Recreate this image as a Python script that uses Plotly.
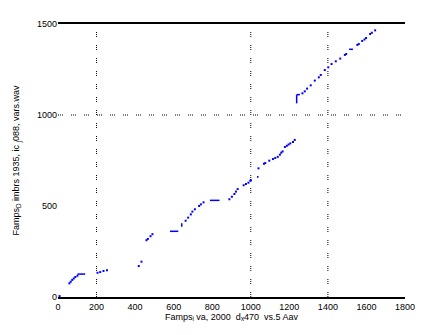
import plotly.graph_objects as go

# Dots (x, y)
dot_x = [8, 59, 66, 74, 82, 90, 101,
         205, 219, 236, 254,
         419, 433,
         459, 466, 480, 490,
         662, 675, 689, 697, 710, 732, 741, 755,
         889, 902, 915, 923, 932, 963, 975, 988, 998, 1000,
         1040, 1068, 1075, 1096, 1115, 1127, 1140, 1151, 1158, 1165, 1177, 1187, 1196, 1205, 1219, 1228,
         1268, 1280, 1292, 1311, 1332, 1353, 1363, 1384, 1402, 1419, 1441, 1464, 1488, 1495,
         1553, 1560, 1578, 1590, 1598, 1619, 1628, 1645]
dot_y = [5, 75, 84, 94, 102, 110, 117,
         133, 137, 143, 147,
         170, 194,
         312, 319, 334, 345,
         419, 436, 454, 469, 482, 500, 509, 520,
         537, 551, 566, 579, 593, 614, 621, 628, 639, 641,
         707, 732, 736, 749, 758, 764, 770, 782, 793, 800, 824, 831, 838, 844, 852, 863,
         1119, 1130, 1145, 1163, 1189, 1207, 1220, 1247, 1262, 1280, 1295, 1310, 1330, 1335,
         1385, 1390, 1407, 1415, 1423, 1445, 1452, 1465]

# Line segments (x0, x1, y0, y1)
seg_x0 = [101, 581, 642, 788, 1036, 1238, 1238, 1510]
seg_x1 = [141, 624, 642, 838, 1036, 1238, 1255, 1530]
seg_y0 = [126, 361, 386, 531, 655, 1064, 1112, 1361]
seg_y1 = [126, 361, 405, 531, 665, 1112, 1112, 1361]

# Grid lines drawn
grid_x = [200, 1000, 1400]
grid_y = [1000]

x_ticks = [0, 200, 400, 600, 800, 1000, 1200, 1400, 1600, 1800]
y_ticks = [0, 500, 1000, 1500]

x_title = "Famps<sub>i</sub> va, 2000  d<sub>x</sub>470  vs.5 Aav"
y_title = "Famps<sub>D</sub> imbrs 1935, ic <sub>j</sub>088, vars.wav"

fig = go.Figure()

sx, sy = [], []
for a, b, c, d in zip(seg_x0, seg_x1, seg_y0, seg_y1):
    sx += [a, b, None]
    sy += [c, d, None]
fig.add_trace(go.Scatter(x=sx, y=sy, mode="lines",
                         line=dict(color="#0000ff", width=1.5),
                         hoverinfo="skip", showlegend=False))
fig.add_trace(go.Scatter(x=dot_x, y=dot_y, mode="markers",
                         marker=dict(color="#0000ff", size=2, symbol="square",
                                     line=dict(width=0)),
                         showlegend=False))

dot_pattern = "1px,1px,1px,1px,1px,8px"
for gx in grid_x:
    fig.add_shape(type="line", x0=gx, x1=gx, y0=0, y1=1500, xref="x", yref="y",
                  line=dict(color="black", width=1, dash=dot_pattern), layer="below")
for gy in grid_y:
    fig.add_shape(type="line", x0=0, x1=1800, y0=gy, y1=gy, xref="x", yref="y",
                  line=dict(color="black", width=1, dash=dot_pattern), layer="below")

font = dict(family="Liberation Sans, Arial, sans-serif", size=9, color="black")

fig.update_layout(
    width=447, height=335,
    margin=dict(l=58, r=42, t=24, b=38),
    paper_bgcolor="white", plot_bgcolor="white",
    font=font,
    xaxis=dict(range=[0, 1800], tickvals=x_ticks, ticktext=[str(v) for v in x_ticks],
               showgrid=False, zeroline=False, showline=True, mirror=True,
               linecolor="black", linewidth=1.5, ticks="", ticklen=0,
               title=dict(text=x_title, font=font, standoff=0)),
    yaxis=dict(range=[0, 1500], tickvals=y_ticks, ticktext=[str(v) for v in y_ticks],
               showgrid=False, zeroline=False, showline=False,
               ticks="", ticklen=0,
               title=dict(text=y_title, font=font, standoff=15)),
)

fig.write_html("out.html")
